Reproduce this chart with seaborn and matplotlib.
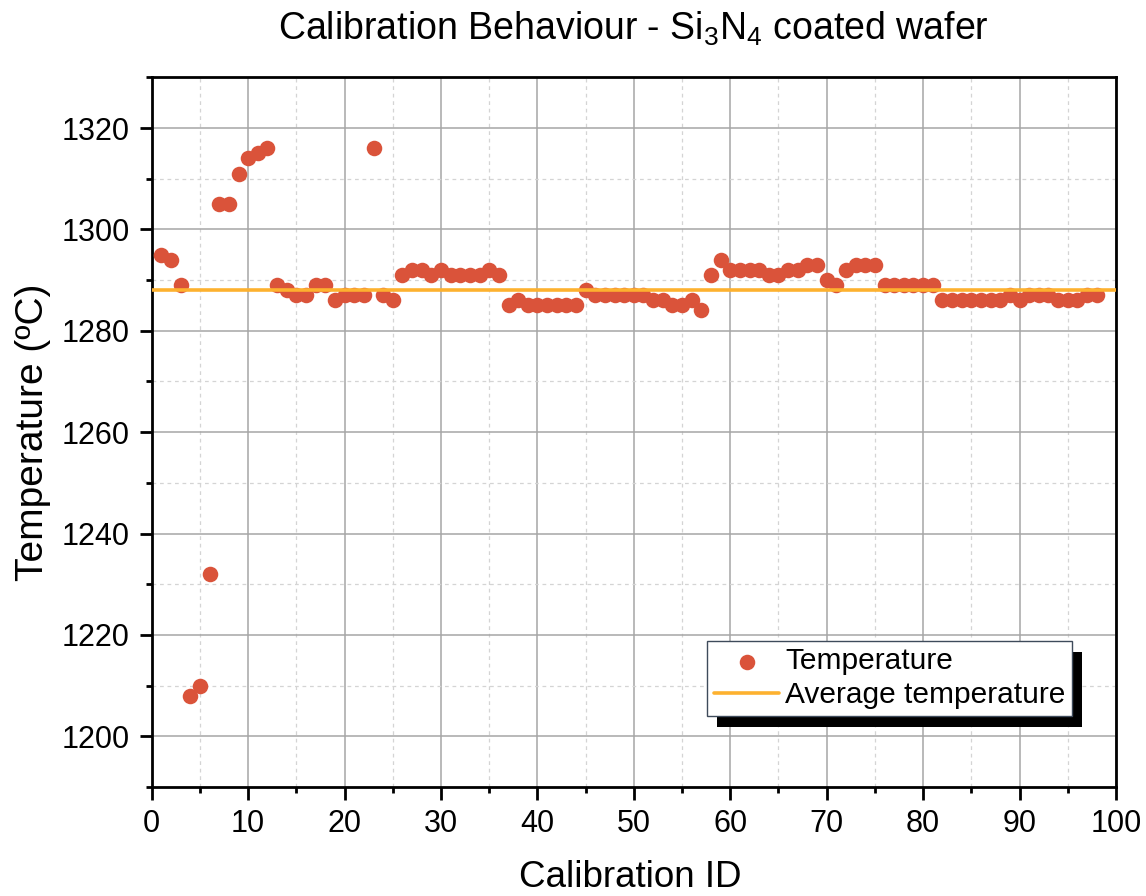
import numpy as np
import pandas as pd
import matplotlib
matplotlib.use("Agg")
import matplotlib.pyplot as plt
import seaborn as sns
from matplotlib.patches import Rectangle
from matplotlib.transforms import IdentityTransform
from matplotlib.ticker import MultipleLocator

calibration_id = list(range(1, 99))
temperature = [
    1295, 1294, 1289, 1208, 1210, 1232, 1305, 1305, 1311, 1314,
    1315, 1316, 1289, 1288, 1287, 1287, 1289, 1289, 1286, 1287,
    1287, 1287, 1316, 1287, 1286, 1291, 1292, 1292, 1291, 1292,
    1291, 1291, 1291, 1291, 1292, 1291, 1285, 1286, 1285, 1285,
    1285, 1285, 1285, 1285, 1288, 1287, 1287, 1287, 1287, 1287,
    1287, 1286, 1286, 1285, 1285, 1286, 1284, 1291, 1294, 1292,
    1292, 1292, 1292, 1291, 1291, 1292, 1292, 1293, 1293, 1290,
    1289, 1292, 1293, 1293, 1293, 1289, 1289, 1289, 1289, 1289,
    1289, 1286, 1286, 1286, 1286, 1286, 1286, 1286, 1287, 1286,
    1287, 1287, 1287, 1286, 1286, 1286, 1287, 1287,
]
average_temperature = 1288

title_text = "Calibration Behaviour - Si$_3$N$_4$ coated wafer"
x_label = "Calibration ID"
y_label = "Temperature (ºC)"
legend_labels = ["Temperature", "Average temperature"]

df = pd.DataFrame({"id": calibration_id, "temp": temperature})

sns.set_theme(style="white")
plt.rcParams["font.family"] = ["Liberation Sans", "DejaVu Sans"]
plt.rcParams["mathtext.fontset"] = "custom"
plt.rcParams["mathtext.rm"] = "Liberation Sans"
plt.rcParams["mathtext.default"] = "regular"
plt.rcParams["text.color"] = "black"
plt.rcParams["axes.labelcolor"] = "black"
plt.rcParams["xtick.color"] = "black"
plt.rcParams["ytick.color"] = "black"

fig = plt.figure(figsize=(11.46, 8.96), dpi=100)
ax = fig.add_axes([0.1324, 0.1217, 0.8414, 0.7920])

dot_color = "#DA533A"
line_color = "#FDB12F"

sns.scatterplot(data=df, x="id", y="temp", ax=ax, color=dot_color, s=125,
                linewidth=0, label=legend_labels[0], zorder=3)
ax.axhline(average_temperature, color=line_color, lw=2.6, zorder=4,
           label=legend_labels[1])

ax.set_xlim(0, 100)
ax.set_ylim(1190, 1330)
ax.xaxis.set_major_locator(MultipleLocator(10))
ax.xaxis.set_minor_locator(MultipleLocator(5))
ax.yaxis.set_major_locator(MultipleLocator(20))
ax.yaxis.set_minor_locator(MultipleLocator(10))

ax.grid(which="major", color="#A6A6A6", lw=1.1, ls="-", zorder=0)
ax.grid(which="minor", color="#D4D4D4", lw=0.9, ls=(0, (3, 3)), zorder=0)
ax.set_axisbelow(True)

for side, sp in ax.spines.items():
    sp.set_visible(True)
    sp.set_color("black")
    sp.set_linewidth(2.0)

ax.tick_params(which="major", direction="out", length=9, width=2,
               labelsize=22, color="black", labelcolor="black",
               bottom=True, left=True, top=False, right=False, pad=7)
ax.tick_params(which="minor", direction="out", length=4.5, width=2,
               color="black", bottom=True, left=True, top=False, right=False)

ax.set_title(title_text, fontsize=27, pad=27, color="black")
ax.set_xlabel(x_label, fontsize=26.5, color="black")
ax.set_ylabel(y_label, fontsize=28, color="black")
ax.xaxis.set_label_coords(0.496, -0.1415)
ax.xaxis.label.set_verticalalignment("baseline")
ax.yaxis.set_label_coords(-0.104, 0.5)

leg = ax.legend(loc="upper left", bbox_to_anchor=(0.576, 0.206),
                borderaxespad=0, fontsize=21.5, frameon=True, fancybox=False,
                framealpha=1, edgecolor="#3E4B5B", facecolor="white",
                handlelength=2.2, handletextpad=0.2, labelspacing=0.2,
                borderpad=0.22, markerscale=1.0)
leg.get_frame().set_linewidth(1.0)
leg.set_zorder(6)
for t in leg.get_texts():
    t.set_color("black")

fig.canvas.draw()
bb = leg.get_window_extent()
shadow = Rectangle((bb.x0 + 10, bb.y0 - 11), bb.width, bb.height,
                   transform=IdentityTransform(), facecolor="black",
                   edgecolor="none", zorder=5.5, clip_on=False)
ax.add_artist(shadow)

fig.savefig("out.png", dpi=100, facecolor="white")
